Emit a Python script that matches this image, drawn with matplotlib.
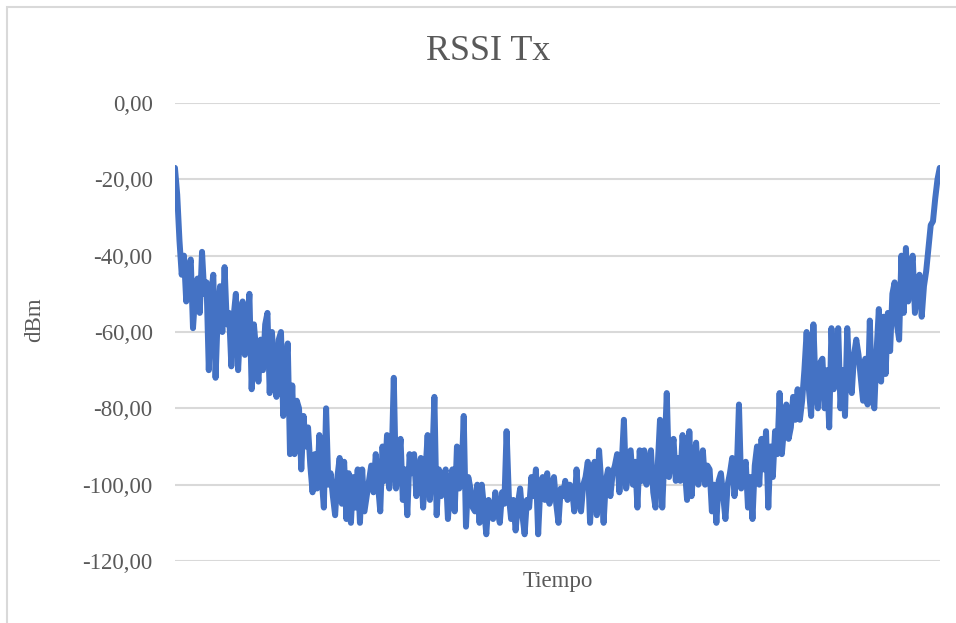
import matplotlib.pyplot as plt
from matplotlib.patches import Rectangle
from matplotlib.ticker import FuncFormatter

TITLE = "RSSI Tx"
X_LABEL = "Tiempo"
Y_LABEL = "dBm"
Y_TICKS = [0, -20, -40, -60, -80, -100, -120]

# RSSI samples (dBm), in time order
rssi_start = [
    -17, -24, -36, -45, -40, -52, -44, -41, -59, -50, -46, -55, -39, -50,
    -47, -70, -50, -45, -72, -55, -48, -60, -43, -58, -55, -69, -56, -50,
    -70, -58, -52, -66, -60, -50, -75, -58, -65, -73, -62, -70, -58,
]
rssi_descent = [
    -55, -76, -60, -70, -77, -62, -60, -82, -70, -63, -92, -74, -92, -78,
    -80, -96, -82, -90, -85, -95, -102, -92, -101, -87, -98, -106, -80,
    -100, -97, -103, -108, -98, -93, -105, -94, -109, -97, -110, -98,
    -106, -96, -110,
]
rssi_floor_a = [
    -96, -107, -103, -99, -95, -102, -92, -100, -107, -90, -99, -87, -101,
    -95, -72, -101, -95, -88, -104, -96, -108, -92, -97, -92, -103, -96,
    -93, -106, -97, -87, -104, -95, -77, -108, -96, -103, -98, -96, -109,
    -100, -96, -107, -90, -101, -98, -82, -111, -98,
]
rssi_floor_b = [
    -101, -106, -107, -100, -110, -100, -106, -113, -104, -108, -109, -102,
    -107, -110, -102, -105, -86, -103, -109, -104, -112, -105, -101, -108,
    -113, -104, -106, -98, -103, -96, -113, -100, -98, -104, -97, -105,
    -100, -98, -105, -110, -101, -103, -99, -104,
]
rssi_floor_c = [
    -100, -101, -107, -96, -104, -107, -100, -98, -94, -110, -99, -94, -108,
    -91, -100, -110, -99, -96, -103, -97, -95, -92, -102, -95, -83, -101,
    -96, -91, -100, -94, -106, -91, -99, -91, -100, -94, -91, -102, -106,
    -95, -83, -106,
]
rssi_floor_d = [
    -92, -76, -98, -92, -88, -99, -93, -99, -87, -96, -104, -86, -103, -94,
    -89, -100, -95, -91, -100, -95, -96, -107, -100, -110, -99, -97, -103,
    -109, -100, -97, -93, -103, -97, -79, -101, -97, -94, -106, -98, -109,
    -95, -90, -100, -88, -96, -86, -106,
]
rssi_ascent = [
    -90, -98, -86, -92, -76, -92, -85, -79, -88, -85, -77, -83, -75, -83,
    -78, -70, -60, -75, -82, -58, -75, -80, -68, -67, -80, -70, -85, -59,
    -75, -70, -59, -80, -70, -82, -59, -72, -76, -66, -62, -66, -72, -78,
    -67, -79, -57, -77, -80, -65, -54, -73, -56, -71, -55, -65, -50, -47,
    -58, -62, -40, -55, -38, -52, -45, -40, -55, -48, -45, -56, -48, -44,
    -38, -32, -31, -25, -20, -17,
]

rssi = (rssi_start + rssi_descent + rssi_floor_a + rssi_floor_b
        + rssi_floor_c + rssi_floor_d + rssi_ascent)
t = list(range(len(rssi)))

plt.rcParams['font.family'] = ['Liberation Serif', 'DejaVu Serif']
text_color = "#595959"

fig = plt.figure(figsize=(9.56, 6.23), dpi=100)
ax = fig.add_axes([0.183, 0.0995, 0.8, 0.7352])

# thin grey frame around the chart area
fig.patches.append(Rectangle((7 / 956, -0.05), 1.0, 1.05 - 7 / 623,
                             transform=fig.transFigure, fill=False,
                             edgecolor="#D9D9D9", linewidth=1.5))

ax.plot(t, rssi, color="#4472C4", linewidth=4.3,
        solid_joinstyle="round", solid_capstyle="round", zorder=3)

ax.set_xlim(0, len(rssi) - 1)
ax.set_ylim(-120, 0)
ax.set_yticks(Y_TICKS)
ax.yaxis.set_major_formatter(
    FuncFormatter(lambda v, p: f"{v:.2f}".replace(".", ",")))
ax.set_xticks([])
ax.grid(axis="y", color="#D9D9D9", linewidth=1.5, zorder=0)
ax.tick_params(axis="y", length=0, pad=16, labelsize=16.5,
               labelcolor=text_color)
for s in ax.spines.values():
    s.set_visible(False)

fig.text(0.511, 0.918, TITLE, ha="center", va="center",
         fontsize=26, color=text_color)
ax.set_xlabel(X_LABEL, fontsize=16.5, color=text_color, labelpad=7)
fig.text(0.036, 0.487, Y_LABEL, rotation=90, ha="center", va="center",
         fontsize=16.5, color=text_color)

fig.savefig("out.png", dpi=100)
